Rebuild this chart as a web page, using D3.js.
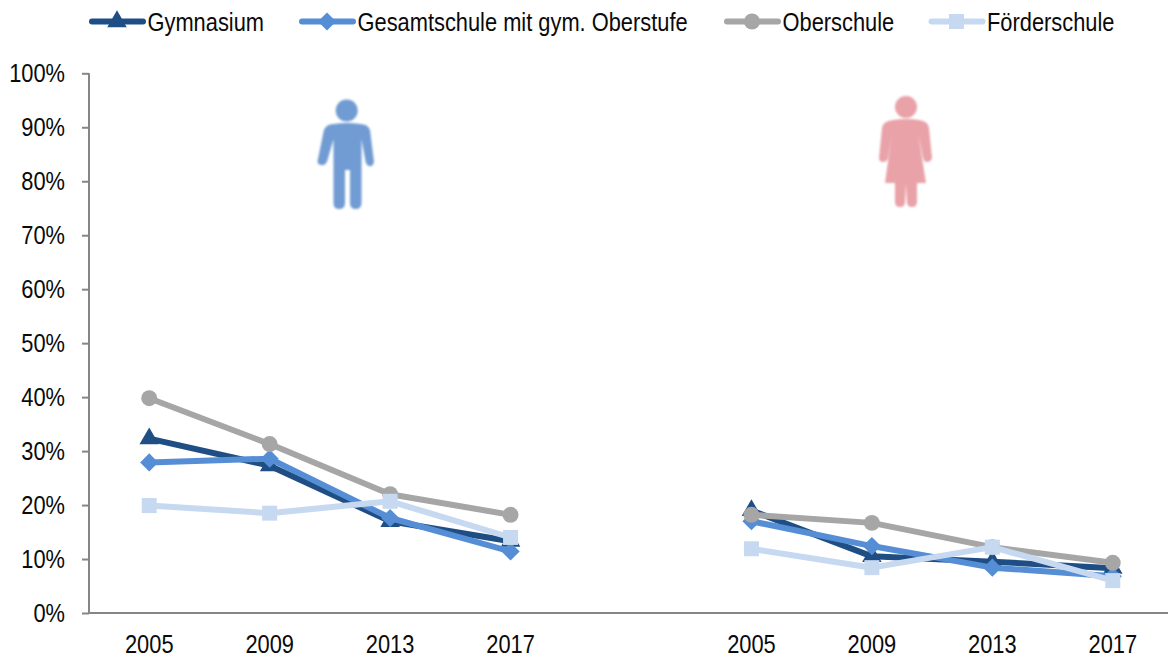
<!DOCTYPE html>
<html><head><meta charset="utf-8">
<script src="https://cdn.jsdelivr.net/npm/d3@7/dist/d3.min.js"></script>
<style>html,body{margin:0;padding:0;background:#fff}svg{display:block}text{font-family:"Liberation Sans",Arial,sans-serif;font-size:26px;fill:#0a0a0a}</style>
</head><body><svg id="c" width="1168" height="662"></svg>
<script>
const slots = ["a2005","a2009","a2013","a2017","gap","b2005","b2009","b2013","b2017"];
const tickLabels = ["2005","2009","2013","2017","","2005","2009","2013","2017"];
const gymnasium = [32.3,27.3,17.0,13.3,null,19.0,10.5,9.5,8.3];
const gesamtschule = [27.9,28.6,17.6,11.4,null,17.0,12.4,8.4,6.8];
const oberschule = [39.8,31.3,22.0,18.2,null,18.2,16.7,12.2,9.3];
const foerderschule = [19.9,18.5,20.7,14.0,null,11.9,8.4,12.2,6.0];
const seriesNames = ["Gymnasium","Gesamtschule mit gym. Oberstufe","Oberschule","Förderschule"];
const seriesValues = [gymnasium,gesamtschule,oberschule,foerderschule];
const colors = ["#1F4E84","#558ED5","#A6A6A6","#C6D9F1"];
const symbols = [d3.symbolTriangle,d3.symbolDiamond2,d3.symbolCircle,d3.symbolSquare];
const symSize = [165,210,200,225];
const legendX = [89,299,724,928.5];

const svg = d3.select("#c");
const x = d3.scaleBand().domain(slots).range([89,1173]);
const y = d3.scaleLinear().domain([0,100]).range([613,73.3]);
const axisColor = "#868686";

// axes
const gy = svg.append("g").attr("transform","translate(89,0)")
  .call(d3.axisLeft(y).tickValues(d3.range(0,101,10)).tickFormat(d=>d+"%").tickSize(7).tickPadding(17));
const gx = svg.append("g").attr("transform","translate(0,613)")
  .call(d3.axisBottom(x).tickSize(0).tickPadding(22).tickFormat((d,i)=>tickLabels[i]));
gx.select(".domain").remove();
svg.append("line").attr("x1",89).attr("x2",1168).attr("y1",y(0)).attr("y2",y(0)).attr("stroke",axisColor).attr("stroke-width",2);
gy.selectAll(".domain,line").attr("stroke",axisColor).attr("stroke-width",2);
gy.select(".domain").attr("d",`M89,${y(100)}V${y(0)}`).attr("transform","translate(-89,0)");
gy.selectAll("text").style("font-size","26px");
gx.selectAll("text").style("font-size","26px");

// icons
svg.append("defs").append("filter").attr("id","soft").append("feGaussianBlur").attr("stdDeviation",1);
const man = svg.append("g").attr("filter","url(#soft)").attr("fill","#6F9BD3").attr("stroke","none");
man.append("circle").attr("cx",346.7).attr("cy",110.5).attr("r",11);
man.append("path").attr("d","M334,124 Q347,122 360,124 Q368,124 370,130 L374,162 Q373,167 369,166 Q366,165 365.5,161 L361.5,139 L361.5,203 Q361,209 356,209 Q350,209 350,203 L350,170 L345,170 L345,203 Q345,209 339,209 Q333.5,209 333.5,203 L333.5,139 L327.5,160 Q326,166 321,165 Q316,164 318,159 L323.5,132 Q325,124 334,124 Z");
const woman = svg.append("g").attr("filter","url(#soft)").attr("fill","#E8A2A8").attr("stroke","none");
woman.append("circle").attr("cx",906).attr("cy",107).attr("r",11);
woman.append("path").attr("d","M893,120 Q906,118 919,120 Q928,121 929,128 L932,158 Q931,162 927,162 Q924,162 923,158 L918,133 L926,183 L917,183 L917,202 Q917,207 912,207 Q907,207 907,202 L906,183 L905,202 Q905,207 900,207 Q895,207 895,202 L895,183 L885,183 L892,133 L888,158 Q887,162 883,162 Q879,162 879,158 L882,128 Q883,121 893,120 Z");

// lines
const line = d3.line().defined(d=>d.v!==null).x(d=>x(d.k)+x.bandwidth()/2).y(d=>y(d.v));
seriesValues.forEach((vals,i)=>{
  const pts = slots.map((k,j)=>({k,v:vals[j]}));
  const g = svg.append("g");
  g.append("path").attr("d",line(pts)).attr("fill","none").attr("stroke",colors[i]).attr("stroke-width",6).attr("stroke-linejoin","round").attr("stroke-linecap","round");
  g.selectAll("path.m").data(pts.filter(d=>d.v!==null)).join("path").attr("class","m")
    .attr("transform",d=>`translate(${x(d.k)+x.bandwidth()/2},${y(d.v)})`)
    .attr("d",d3.symbol().type(symbols[i]).size(symSize[i])).attr("fill",colors[i]);
});

// legend
seriesNames.forEach((n,i)=>{
  const g = svg.append("g").attr("transform",`translate(${legendX[i]},21.5)`);
  g.append("line").attr("x1",3).attr("x2",54).attr("stroke",colors[i]).attr("stroke-width",6).attr("stroke-linecap","round");
  g.append("path").attr("transform","translate(28,0)").attr("d",d3.symbol().type(symbols[i]).size(symSize[i])).attr("fill",colors[i]);
  g.append("text").attr("x",58.5).attr("y",9).text(n);
});

// Narrowed glyph look of the reference
svg.selectAll("text").each(function(){
  const l = this.getComputedTextLength();
  if(l>0){ d3.select(this).attr("textLength",l*0.84).attr("lengthAdjust","spacingAndGlyphs"); }
});
</script></body></html>
